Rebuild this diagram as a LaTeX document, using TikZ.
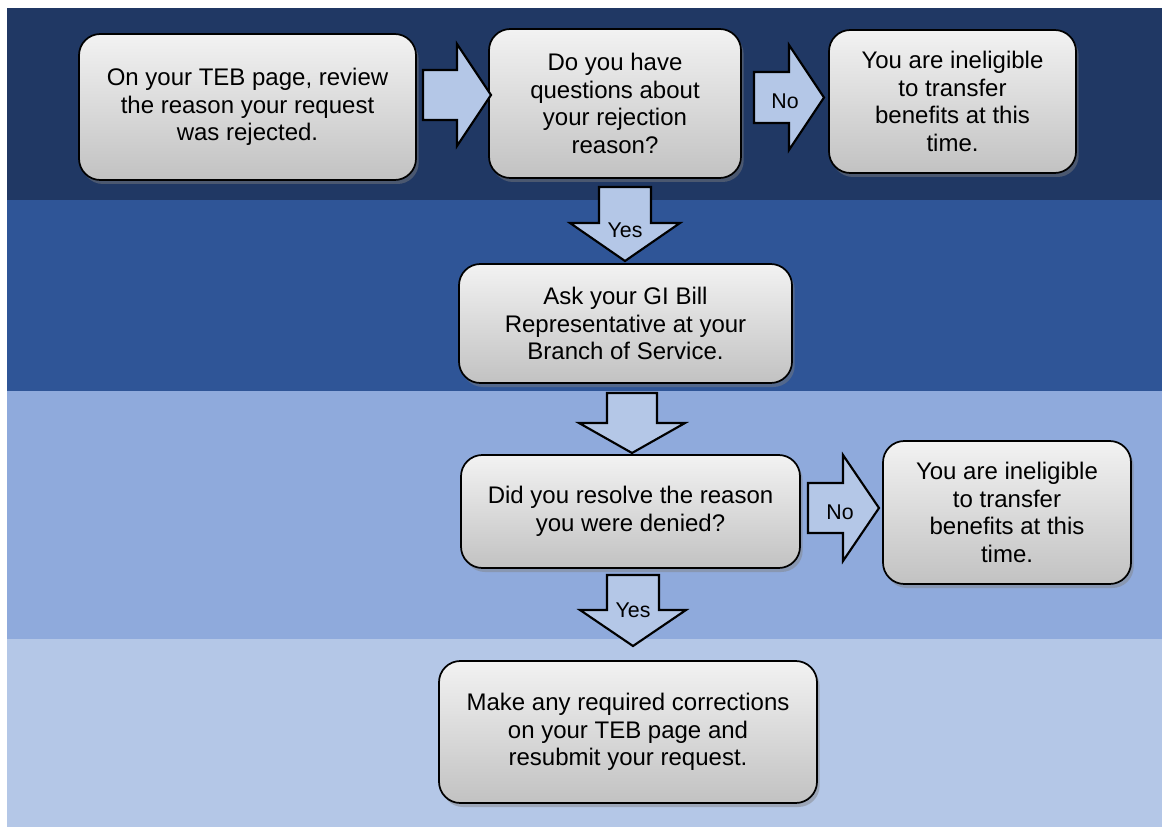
\documentclass[tikz,border=0pt]{standalone}
\usepackage{fontspec}
\setmainfont{Liberation Sans}
\usetikzlibrary{shadows}
\definecolor{bandOne}{HTML}{203864}
\definecolor{bandTwo}{HTML}{2F5597}
\definecolor{bandThree}{HTML}{8FAADC}
\definecolor{bandFour}{HTML}{B4C7E7}
\definecolor{arrowFill}{HTML}{B4C7E7}
\newcommand{\px}{0.75pt}
\tikzset{
  stepbox/.style={draw=black, line width=1.3pt, rounded corners=16pt,
    top color=gray!10, bottom color=gray!48, align=center, inner sep=0pt,
    font=\fontsize{18}{20.6}\selectfont,
    drop shadow={opacity=0.45, shadow xshift=2pt, shadow yshift=-3pt}},
  blockarr/.style={draw=black, line width=1.6pt, fill=arrowFill, line join=miter},
  arrlabel/.style={font=\fontsize{16}{18}\selectfont, inner sep=0pt}
}
\begin{document}
\begin{tikzpicture}[x=\px, y=-\px]
  \useasboundingbox[fill=white] (0,0) rectangle (1162,827);
  % background bands
  \fill[bandOne]   (7,8)   rectangle (1162,200);
  \fill[bandTwo]   (7,200) rectangle (1162,391);
  \fill[bandThree] (7,391) rectangle (1162,639);
  \fill[bandFour]  (7,639) rectangle (1162,827);

  % boxes
  \node[stepbox, minimum width=337*\px, minimum height=146*\px] (review) at (247.5,107)
    {On your TEB page, review\\the reason your request\\was rejected.};
  \node[stepbox, minimum width=252*\px, minimum height=149*\px] (questions) at (615,103.5)
    {Do you have\\questions about\\your rejection\\reason?};
  \node[stepbox, minimum width=247*\px, minimum height=143*\px] (ineligA) at (952.5,101.5)
    {You are ineligible\\to transfer\\benefits at this\\time.};
  \node[stepbox, minimum width=333*\px, minimum height=119*\px] (askrep) at (625.5,323.5)
    {Ask your GI Bill\\Representative at your\\Branch of Service.};
  \node[stepbox, minimum width=339*\px, minimum height=113*\px] (resolved) at (630.5,511.5)
    {Did you resolve the reason\\you were denied?};
  \node[stepbox, minimum width=248*\px, minimum height=143*\px] (ineligB) at (1007,512.5)
    {You are ineligible\\to transfer\\benefits at this\\time.};
  \node[stepbox, minimum width=378*\px, minimum height=142*\px] (resubmit) at (628,732)
    {Make any required corrections\\on your TEB page and\\resubmit your request.};

  % block arrows
  \draw[blockarr] (423,70) -- (457,70) -- (457,44) -- (491,95) -- (457,146) -- (457,120) -- (423,120) -- cycle;
  \draw[blockarr] (754,72) -- (789,72) -- (789,45) -- (824,97.5) -- (789,150) -- (789,123) -- (754,123) -- cycle;
  \draw[blockarr] (599,187) -- (651,187) -- (651,223) -- (680,223) -- (625,261) -- (570,223) -- (599,223) -- cycle;
  \draw[blockarr] (607,393) -- (657,393) -- (657,423) -- (685,423) -- (632,453) -- (579,423) -- (607,423) -- cycle;
  \draw[blockarr] (808,483) -- (843,483) -- (843,455) -- (879,508) -- (843,561) -- (843,533) -- (808,533) -- cycle;
  \draw[blockarr] (607,575) -- (659,575) -- (659,610) -- (686,610) -- (633,646) -- (580,610) -- (607,610) -- cycle;

  \node[arrlabel] (noA)  at (785,101) {No};
  \node[arrlabel] (yesA) at (625,230) {Yes};
  \node[arrlabel] (noB)  at (840,512) {No};
  \node[arrlabel] (yesB) at (633,610) {Yes};
\end{tikzpicture}
\end{document}
